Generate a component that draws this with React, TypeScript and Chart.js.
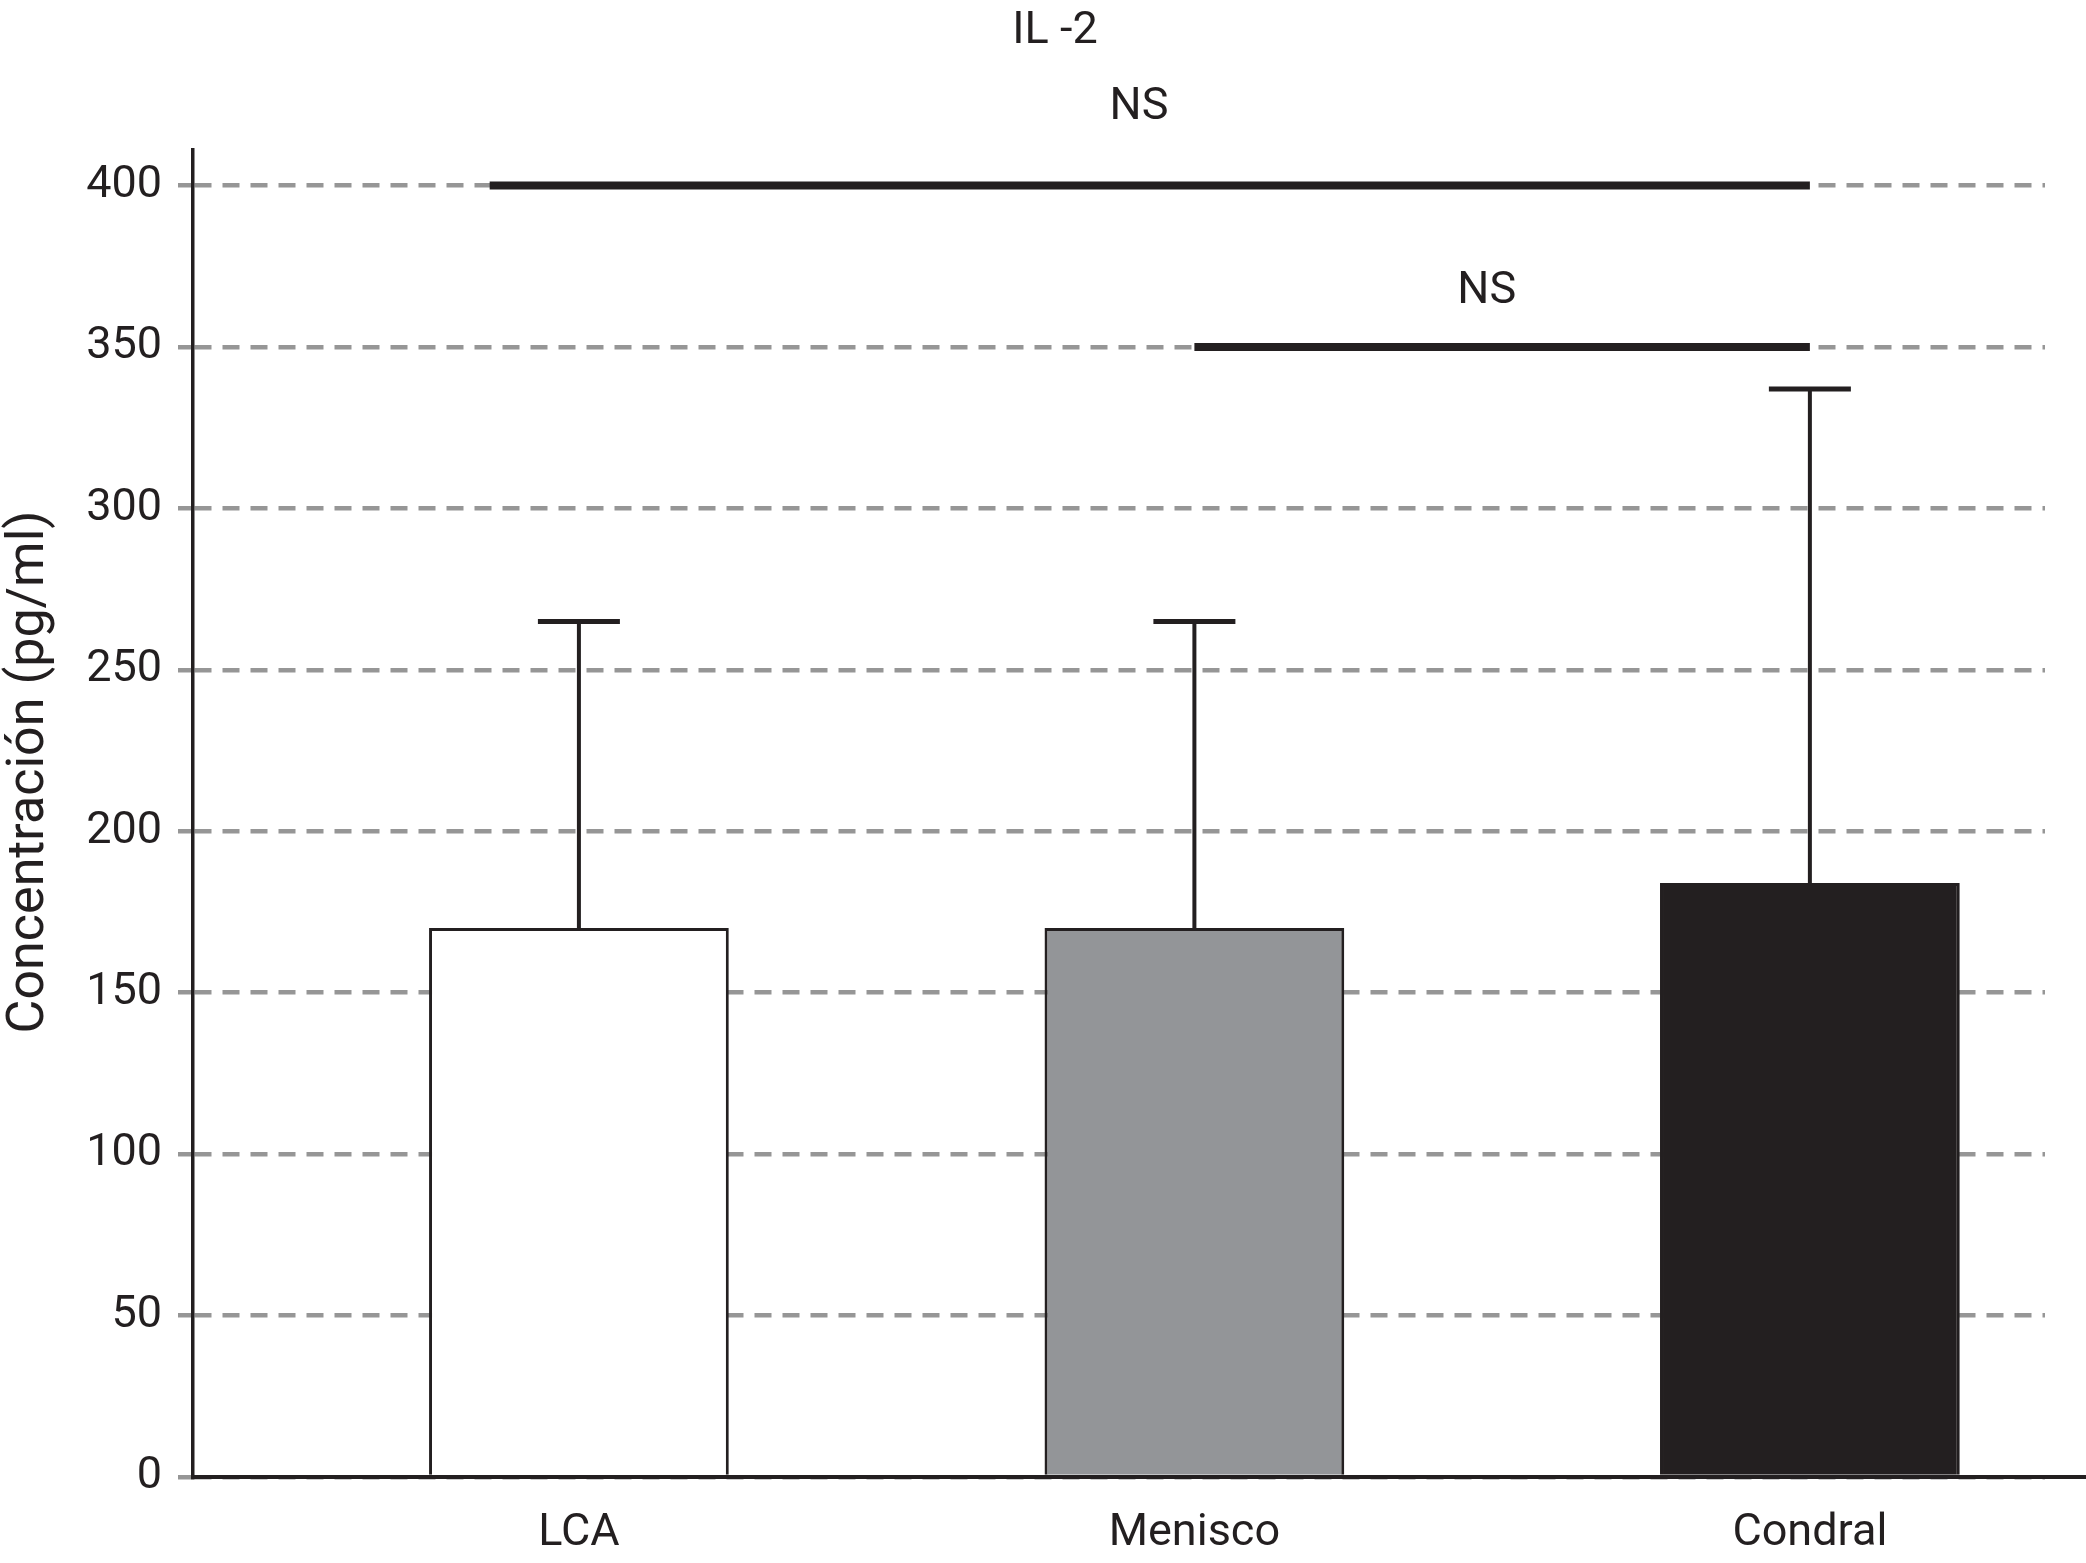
import React, { useEffect, useRef } from 'react';
import { Chart, registerables } from 'chart.js';

Chart.register(...registerables);

// ---- data ----
const categories = ['LCA', 'Menisco', 'Condral'];
const categoryPositions = [1, 2, 3];
const meanValues = [170, 170, 184];
const sdValues = [95, 95, 153];
const barColors = ['#ffffff', '#939598', '#231f20'];
const yTickValues = [0, 50, 100, 150, 200, 250, 300, 350, 400];
const bracketStarts = [0.855, 2];
const bracketEnds = [3, 3];
const bracketLevels = [400, 350];
const bracketLabels = ['NS', 'NS'];
const bracketLabelX = [1.91, 2.475];
const bracketLabelY = [424, 367];
const chartTitle = 'IL -2';
const yAxisTitle = 'Concentración (pg/ml)';

const X_MIN = 0.373;
const X_MAX = 3.382;
const Y_MAX = 411;
const INK = '#231f20';
const GRID = '#969696';
const FONT = 'Roboto';

const overlayPlugin = {
  id: 'overlay',
  afterDraw(chart: any) {
    const ctx = chart.ctx;
    const xs = chart.scales.x;
    const ys = chart.scales.y;
    const meta = chart.getDatasetMeta(0);
    ctx.save();
    ctx.strokeStyle = INK;
    ctx.lineCap = 'butt';

    // error bars
    meta.data.forEach((bar: any, i: number) => {
      const top = ys.getPixelForValue(meanValues[i] + sdValues[i]);
      ctx.lineWidth = 4;
      ctx.beginPath();
      ctx.moveTo(bar.x, bar.y);
      ctx.lineTo(bar.x, top);
      ctx.stroke();
      ctx.lineWidth = 5;
      ctx.beginPath();
      ctx.moveTo(bar.x - 41, top);
      ctx.lineTo(bar.x + 41, top);
      ctx.stroke();
    });

    // x axis baseline, running to the canvas edge
    const y0 = ys.getPixelForValue(0);
    ctx.lineWidth = 4;
    ctx.beginPath();
    ctx.moveTo(chart.chartArea.left - 2, y0);
    ctx.lineTo(chart.width, y0);
    ctx.stroke();

    // significance brackets
    ctx.lineWidth = 8;
    bracketLevels.forEach((lvl, i) => {
      const py = ys.getPixelForValue(lvl);
      ctx.beginPath();
      ctx.moveTo(xs.getPixelForValue(bracketStarts[i]), py);
      ctx.lineTo(xs.getPixelForValue(bracketEnds[i]), py);
      ctx.stroke();
    });

    ctx.fillStyle = INK;
    ctx.textAlign = 'center';
    ctx.textBaseline = 'middle';
    ctx.font = `45px ${FONT}`;
    bracketLabels.forEach((lab, i) => {
      ctx.fillText(lab, xs.getPixelForValue(bracketLabelX[i]), ys.getPixelForValue(bracketLabelY[i]));
    });

    // chart title
    ctx.fillText(chartTitle, 1055, 32);

    // y axis title
    ctx.save();
    ctx.translate(30, 772);
    ctx.rotate(-Math.PI / 2);
    ctx.font = `52px ${FONT}`;
    ctx.fillText(yAxisTitle, 0, 0);
    ctx.restore();

    ctx.restore();
  },
};

export default function App() {
  const canvasRef = useRef<HTMLCanvasElement | null>(null);

  useEffect(() => {
    const canvas = canvasRef.current;
    if (!canvas) return;
    const chart = new Chart(canvas, {
      type: 'bar',
      data: {
        datasets: [
          {
            data: categoryPositions.map((x, i) => ({ x, y: meanValues[i] })),
            backgroundColor: barColors,
            borderColor: INK,
            borderWidth: 3,
            barPercentage: 0.487,
            categoryPercentage: 1,
          } as any,
        ],
      },
      options: {
        responsive: false,
        animation: false,
        devicePixelRatio: 1,
        layout: { padding: { top: 150, right: 41, left: 0, bottom: 0 } },
        plugins: {
          legend: { display: false },
          tooltip: { enabled: false },
          title: { display: false },
        },
        scales: {
          x: {
            type: 'linear',
            min: X_MIN,
            max: X_MAX,
            offset: false,
            bounds: 'ticks',
            afterBuildTicks: (s: any) => {
              s.ticks = categoryPositions.map((v) => ({ value: v }));
            },
            afterFit: (s: any) => {
              s.height = 86;
            },
            grid: { display: false, drawTicks: false },
            border: { display: false },
            ticks: {
              color: INK,
              font: { family: FONT, size: 45 },
              padding: 30,
              autoSkip: false,
              maxRotation: 0,
              callback: (v: any) => {
                const idx = categoryPositions.indexOf(Number(v));
                return idx >= 0 ? categories[idx] : '';
              },
            },
          },
          y: {
            min: 0,
            max: Y_MAX,
            afterBuildTicks: (s: any) => {
              s.ticks = yTickValues.map((v) => ({ value: v }));
            },
            afterFit: (s: any) => {
              s.width = 193;
            },
            grid: {
              color: GRID,
              lineWidth: 4.5,
              drawTicks: true,
              tickLength: 15,
              tickColor: GRID,
              tickWidth: 4.5,
            },
            border: { display: true, color: INK, width: 3.5, dash: [17, 11] },
            ticks: {
              color: INK,
              font: { family: FONT, size: 45 },
              padding: 16,
            },
          },
        },
      } as any,
      plugins: [overlayPlugin],
    });
    return () => chart.destroy();
  }, []);

  return (
    <div style={{ position: 'fixed', left: 0, top: 0, width: 2086, height: 1563, background: '#ffffff' }}>
      <canvas ref={canvasRef} width={2086} height={1563} style={{ display: 'block' }} />
    </div>
  );
}
